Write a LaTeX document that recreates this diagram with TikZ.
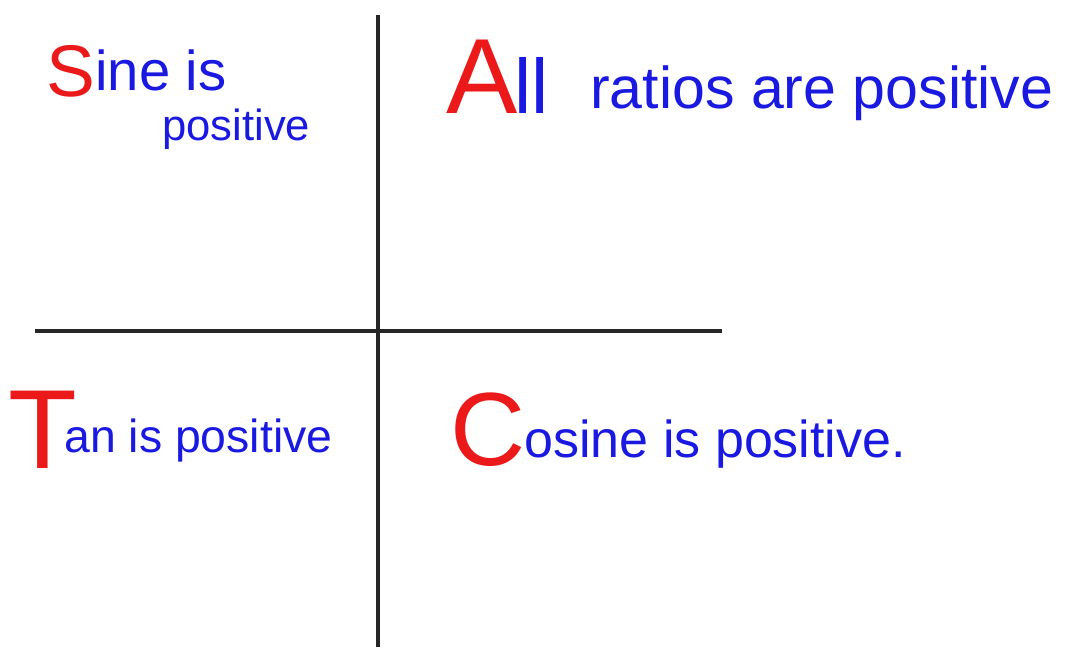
\documentclass[tikz,border=0pt]{standalone}
\usepackage{xcolor}
\usepackage{tikz}
\usepackage{fontspec}
\setmainfont{Liberation Sans}
\usetikzlibrary{positioning,calc}
\definecolor{handred}{RGB}{235,25,25}
\definecolor{handblue}{RGB}{25,25,225}

\begin{document}
\begin{tikzpicture}[
    x=0.025cm, y=-0.025cm,
    axis/.style={line width=2.2pt, draw=black!85},
    capital/.style={anchor=base west, inner sep=0pt, text=handred},
    words/.style={anchor=base west, inner sep=0pt, text=handblue}
]
\useasboundingbox (0,0) rectangle (1073,647);

% Axes
\coordinate (top) at (378,15);
\coordinate (bottom) at (378,647);
\coordinate (left) at (35,331);
\coordinate (right) at (722,331);
\draw[axis] (top) -- (bottom);
\draw[axis] (left) -- (right);

% Second quadrant
\node[capital, font=\fontsize{52}{52}\selectfont] (sine) at (46,96) {S};
\node[words, font=\fontsize{40}{40}\selectfont] (sineis) at (95,90) {ine is};
\node[words, font=\fontsize{31}{31}\selectfont] (sinepos) at (162,140) {positive};

% First quadrant
\node[capital, font=\fontsize{76}{76}\selectfont] (all) at (446,113) {A};
\node[words, font=\fontsize{55}{55}\selectfont] (allll) at (514,113) {ll};
\node[words, font=\fontsize{42}{42}\selectfont] (ratios) at (590,108) {ratios are positive};

% Third quadrant
\node[capital, font=\fontsize{80}{80}\selectfont] (tan) at (8,468) {T};
\node[words, font=\fontsize{33}{33}\selectfont] (tanpos) at (64,452) {an is positive};

% Fourth quadrant
\node[capital, font=\fontsize{74}{74}\selectfont] (cos) at (450,465) {C};
\node[words, font=\fontsize{37}{37}\selectfont] (cospos) at (524,457) {osine is positive.};

\end{tikzpicture}
\end{document}
